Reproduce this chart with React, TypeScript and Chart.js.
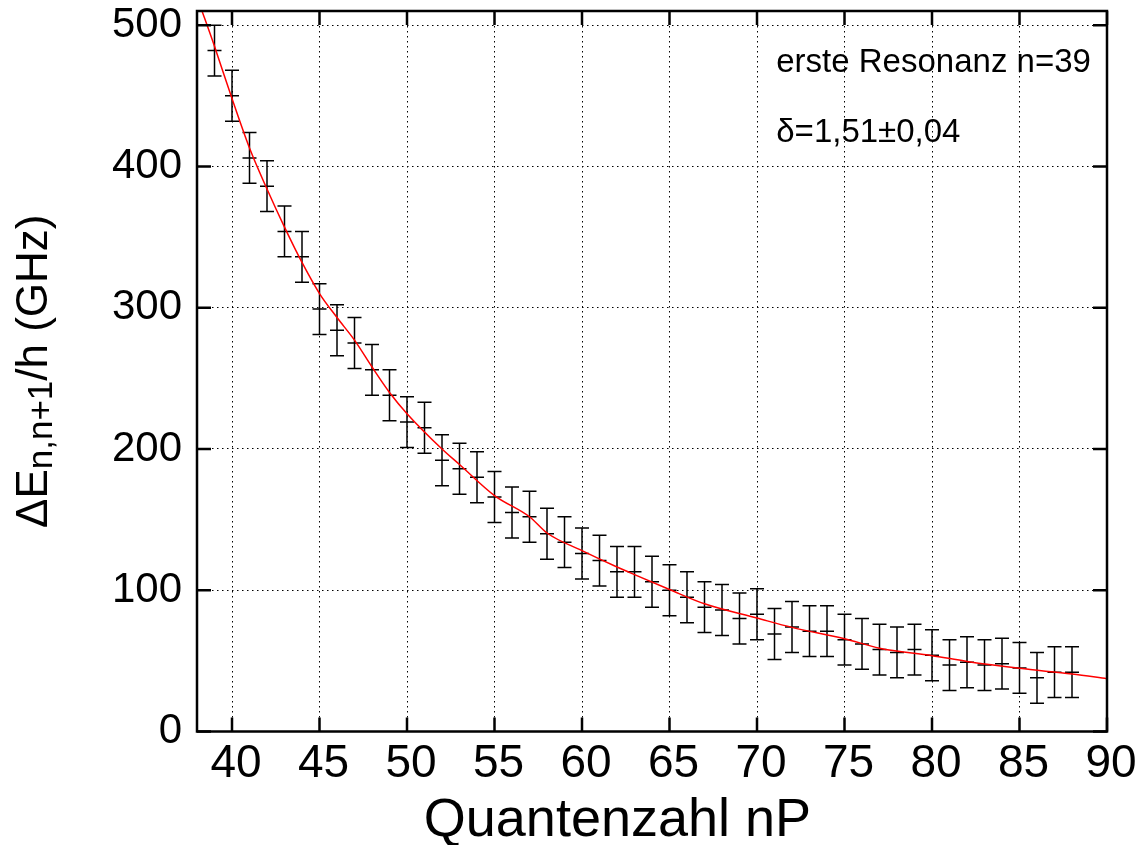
import React, { useEffect, useRef } from "react";
import { Chart, registerables } from "chart.js";

Chart.register(...registerables);

// Measured data: principal quantum number n and energy spacing (GHz)
const nValues = [
  39, 40, 41, 42, 43, 44, 45, 46, 47, 48, 49, 50, 51, 52, 53, 54, 55, 56, 57, 58,
  59, 60, 61, 62, 63, 64, 65, 66, 67, 68, 69, 70, 71, 72, 73, 74, 75, 76, 77, 78,
  79, 80, 81, 82, 83, 84, 85, 86, 87, 88,
];
const dEValues = [
  482, 450, 406, 386, 354, 336, 299, 284, 275, 256, 238, 219, 215, 192, 186, 180, 166, 155, 152, 140,
  134, 126, 121, 113, 113, 106, 100, 95, 88, 86, 80, 83, 69, 74, 71, 71, 65, 62, 58, 56,
  58, 54, 47, 49, 47, 48, 45, 38, 42, 42,
];
const ERROR_GHZ = 18;

// Fit curve
const fitN = [38.2, 39, 40, 41, 42, 43, 44, 45, 46, 47, 48, 49, 50, 52, 53, 55, 57, 58, 60, 62, 63, 65, 67, 70, 72, 75, 77, 80, 82, 85, 88, 90];
const fitE = [513, 485, 448, 413, 384, 357, 332, 310, 293, 277, 258, 240, 225, 200, 189, 167, 152, 140.5, 128, 116.4, 111, 100.5, 90.4, 80.3, 73.7, 65.7, 59, 53.7, 49.6, 44.7, 40.7, 37.4];

const xTicks = [40, 45, 50, 55, 60, 65, 70, 75, 80, 85, 90];
const yTicks = [0, 100, 200, 300, 400, 500];

const xTitle = "Quantenzahl nP";
const yTitleMain = "\u0394E";
const yTitleSub = "n,n+1";
const yTitleRest = "/h (GHz)";
const noteLines = ["erste Resonanz n=39", "\u03b4=1,51\u00b10,04"];

export default function App() {
  const ref = useRef<HTMLCanvasElement>(null);

  useEffect(() => {
    const canvas = ref.current;
    if (!canvas) return;
    const FONT = "'Liberation Sans', Arial, Helvetica, sans-serif";

    const decor = {
      id: "decor",
      beforeDraw(chart: any) {
        const ctx = chart.ctx;
        ctx.save();
        ctx.fillStyle = "#ffffff";
        ctx.fillRect(0, 0, chart.width, chart.height);
        ctx.restore();
      },
      beforeDatasetsDraw(chart: any) {
        const ctx = chart.ctx;
        const xs = chart.scales.x;
        const ys = chart.scales.y;
        const a = chart.chartArea;
        ctx.save();
        ctx.beginPath();
        ctx.rect(a.left, a.top, a.right - a.left, a.bottom - a.top);
        ctx.clip();
        ctx.strokeStyle = "#000000";
        ctx.lineWidth = 1.5;
        const cap = 7;
        for (let i = 0; i < nValues.length; i++) {
          const px = xs.getPixelForValue(nValues[i]);
          const pt = ys.getPixelForValue(dEValues[i] + ERROR_GHZ);
          const pb = ys.getPixelForValue(dEValues[i] - ERROR_GHZ);
          ctx.beginPath();
          ctx.moveTo(px, pt);
          ctx.lineTo(px, pb);
          ctx.moveTo(px - cap, pt);
          ctx.lineTo(px + cap, pt);
          ctx.moveTo(px - cap, pb);
          ctx.lineTo(px + cap, pb);
          ctx.stroke();
        }
        ctx.restore();
      },
      afterDraw(chart: any) {
        const ctx = chart.ctx;
        const xs = chart.scales.x;
        const ys = chart.scales.y;
        const a = chart.chartArea;
        ctx.save();
        // inward tick marks
        ctx.strokeStyle = "#000000";
        ctx.lineWidth = 2.5;
        const tl = 14;
        ctx.beginPath();
        for (const v of xTicks) {
          const px = xs.getPixelForValue(v);
          ctx.moveTo(px, a.bottom);
          ctx.lineTo(px, a.bottom - tl);
          ctx.moveTo(px, a.top);
          ctx.lineTo(px, a.top + tl);
        }
        for (const v of yTicks) {
          const py = ys.getPixelForValue(v);
          ctx.moveTo(a.left, py);
          ctx.lineTo(a.left + tl, py);
          ctx.moveTo(a.right, py);
          ctx.lineTo(a.right - tl, py);
        }
        ctx.stroke();
        // frame
        ctx.lineWidth = 2.5;
        ctx.strokeRect(a.left, a.top, a.right - a.left, a.bottom - a.top);

        // y title with subscript
        ctx.fillStyle = "#000000";
        const cy = (a.top + a.bottom) / 2;
        ctx.translate(47, cy);
        ctx.rotate(-Math.PI / 2);
        const mainFont = `44px ${FONT}`;
        const subFont = `35px ${FONT}`;
        ctx.textBaseline = "alphabetic";
        ctx.textAlign = "left";
        ctx.font = mainFont;
        const w1 = ctx.measureText(yTitleMain).width;
        const w3 = ctx.measureText(yTitleRest).width;
        ctx.font = subFont;
        const w2 = ctx.measureText(yTitleSub).width;
        let x0 = -(w1 + w2 + w3) / 2;
        ctx.font = mainFont;
        ctx.fillText(yTitleMain, x0, 0);
        x0 += w1;
        ctx.font = subFont;
        ctx.fillText(yTitleSub, x0, 5);
        x0 += w2;
        ctx.font = mainFont;
        ctx.fillText(yTitleRest, x0, 0);
        ctx.setTransform(1, 0, 0, 1, 0, 0);

        // x title
        ctx.font = `54px ${FONT}`;
        ctx.textAlign = "center";
        ctx.textBaseline = "alphabetic";
        ctx.fillText(xTitle, a.left + (a.right - a.left) * 0.462, 836);

        // annotations
        ctx.font = `33px ${FONT}`;
        ctx.textAlign = "left";
        const nx = xs.getPixelForValue(71.1);
        ctx.fillText(noteLines[0], nx, ys.getPixelForValue(467));
        ctx.fillText(noteLines[1], nx, ys.getPixelForValue(417));
        ctx.restore();
      },
    };

    const chart = new Chart(canvas, {
      type: "scatter",
      data: {
        datasets: [
          {
            type: "line",
            label: "Fit",
            data: fitN.map((n, i) => ({ x: n, y: fitE[i] })),
            borderColor: "#ff0000",
            borderWidth: 1.5,
            pointRadius: 0,
            fill: false,
            cubicInterpolationMode: "monotone",
          } as any,
          {
            type: "scatter",
            label: "Messung",
            data: nValues.map((n, i) => ({ x: n, y: dEValues[i] })),
            pointStyle: "line",
            pointRadius: 7,
            borderColor: "#000000",
            backgroundColor: "#000000",
            borderWidth: 1.5,
            showLine: false,
          } as any,
        ],
      },
      options: {
        responsive: false,
        devicePixelRatio: 1,
        animation: false,
        layout: { padding: { left: 0, right: 40, top: 11, bottom: 0 } },
        plugins: {
          legend: { display: false },
          tooltip: { enabled: false },
        },
        scales: {
          x: {
            type: "linear",
            min: 38,
            max: 90,
            afterBuildTicks: (s: any) => {
              s.ticks = xTicks.map((v) => ({ value: v }));
            },
            afterFit: (s: any) => {
              s.height = 113.5;
              s.paddingLeft = 0;
              s.paddingRight = 0;
            },
            ticks: {
              color: "#000000",
              font: { family: FONT, size: 46 },
              padding: 5,
              labelOffset: 4,
              maxRotation: 0,
              autoSkip: false,
            },
            grid: { color: "#000000", lineWidth: 1, drawTicks: false },
            border: { display: false, dash: [1.5, 3.5] },
          },
          y: {
            type: "linear",
            min: 0,
            max: 510,
            afterBuildTicks: (s: any) => {
              s.ticks = yTicks.map((v) => ({ value: v }));
            },
            afterFit: (s: any) => {
              s.width = 197;
              s.paddingTop = 0;
              s.paddingBottom = 0;
            },
            ticks: {
              color: "#000000",
              font: { family: FONT, size: 42 },
              padding: 15,
              autoSkip: false,
            },
            grid: { color: "#000000", lineWidth: 1, drawTicks: false },
            border: { display: false, dash: [1.5, 3.5] },
          },
        },
      },
      plugins: [decor],
    } as any);

    return () => chart.destroy();
  }, []);

  return (
    <div style={{ position: "absolute", left: 0, top: 0, width: 1147, height: 845, background: "#fff" }}>
      <canvas ref={ref} width={1147} height={845} style={{ display: "block", width: 1147, height: 845 }} />
    </div>
  );
}
